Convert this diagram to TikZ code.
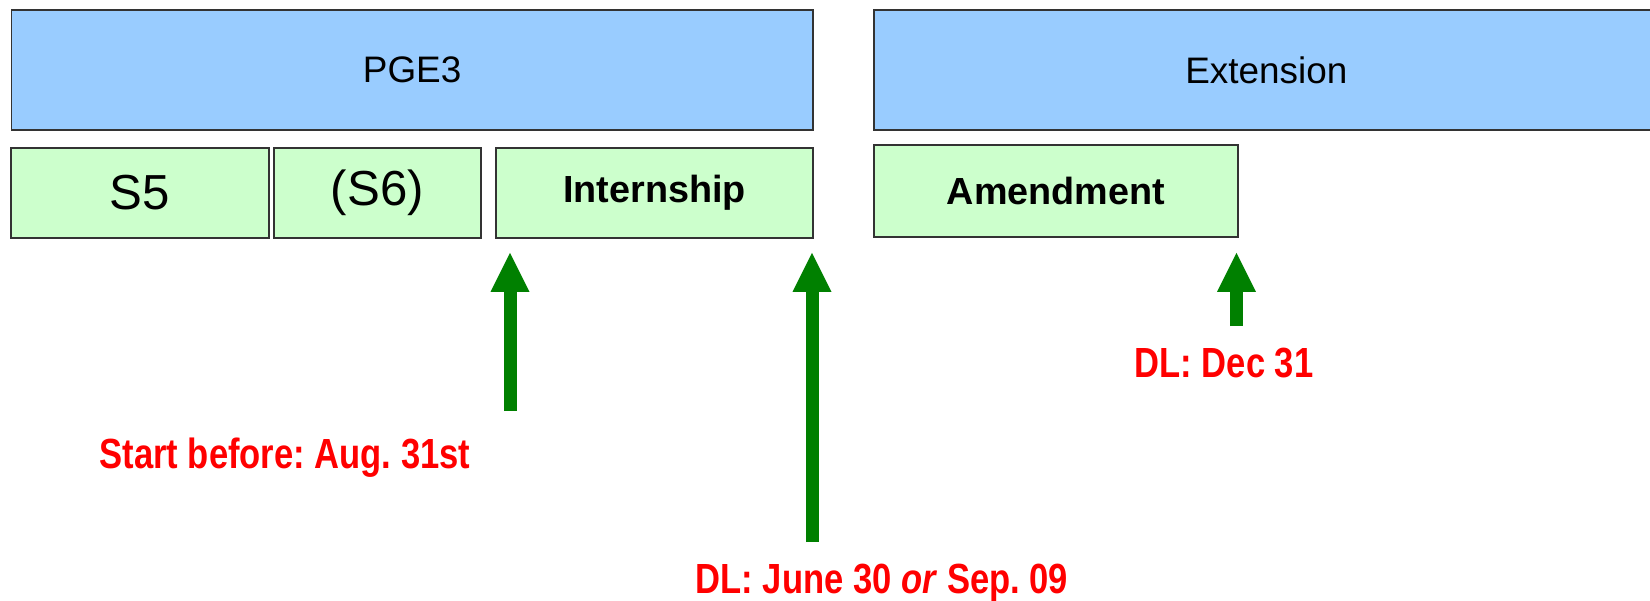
\documentclass[tikz,border=0pt]{standalone}
\usepackage{fontspec}
\setmainfont{Liberation Sans}
\newfontfamily\narrowfont[FakeStretch=0.82]{Liberation Sans}
\usepackage{tikz}
\usetikzlibrary{arrows.meta, calc}
\definecolor{phaseblue}{HTML}{99CCFF}
\definecolor{partgreen}{HTML}{CCFFCC}
\definecolor{arrowgreen}{HTML}{008000}
\frenchspacing

\begin{document}
\begin{tikzpicture}[x=0.02cm, y=-0.02cm,
        phase/.style={draw=black!80, line width=1.1pt, fill=phaseblue, anchor=north west, inner sep=0pt, minimum height=2.4cm, font=\fontsize{21}{25}\selectfont},
        part/.style={draw=black!80, line width=1.1pt, fill=partgreen, anchor=north west, inner sep=0pt, minimum height=1.8cm},
        semester/.style={part, font=\fontsize{28}{32}\selectfont},
        period/.style={part, font=\bfseries\fontsize{21.5}{25}\selectfont},
        deadline/.style={anchor=base, text=red, font=\narrowfont\bfseries\fontsize{24}{28}\selectfont},
        upto/.style={draw=arrowgreen, line width=0.26cm, -{Triangle[width=0.78cm, length=0.78cm, line width=0pt]}}]
        \useasboundingbox (0,0) rectangle (1650,601);

        \node[phase, minimum width=16.03cm] (pge) at (10.5,9) {PGE3};
        \node[phase, minimum width=15.7cm] (ext) at (873,9) {Extension};

        \node[semester, minimum width=5.16cm] (s5) at (10,147) {S5};
        \node[semester, minimum width=4.14cm] (s6) at (273,147) {(S6)};
        \node[period, minimum width=6.34cm] (intern) at (495,147) {Internship};
        \node[period, minimum width=7.28cm, minimum height=1.84cm] (amend) at (873,144) {Amendment};

        \node[deadline] (start) at (285,468) {Start before: Aug. 31st};
        \node[deadline] (june) at (882,593) {DL: June 30 \textit{or} Sep. 09};
        \node[deadline] (dec) at (1224,377) {DL: Dec 31};

        \coordinate (a1) at (510,411);
        \coordinate (a2) at (812,542);
        \coordinate (a3) at (1236.5,326);
        \draw[upto, shorten >=0.28cm] (a1) -- (a1 |- intern.south);
        \draw[upto, shorten >=0.28cm] (a2) -- (a2 |- intern.south);
        \draw[upto, shorten >=0.3cm] (a3) -- (a3 |- amend.south);
\end{tikzpicture}
\end{document}
